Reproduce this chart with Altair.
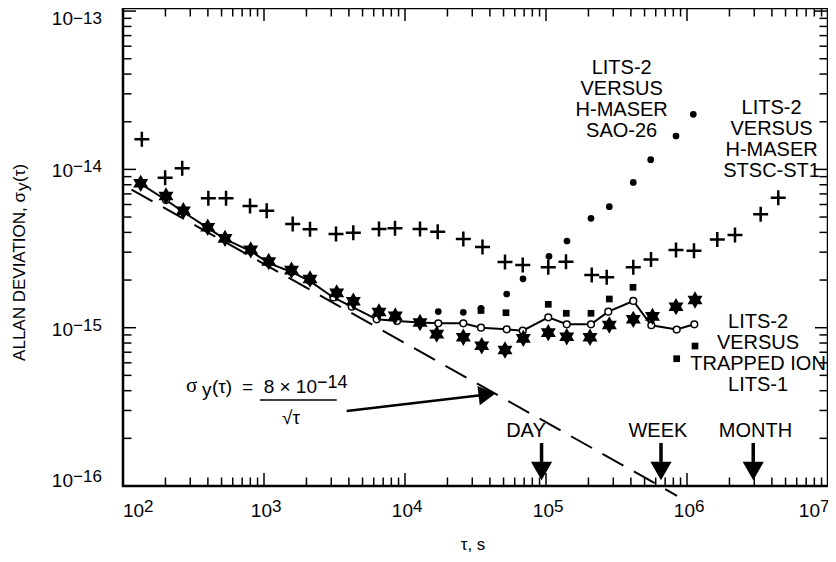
import altair as alt
import pandas as pd

# ---------------- data ----------------
# LITS-2 versus H-maser STSC-ST1  (plus markers)
plus_tau = [136, 199, 263, 403, 538, 796, 1045, 1598, 2120, 3241, 4299, 6540, 8493,
            12780, 17060, 25920, 35450, 51190, 68390, 103800, 138600, 211000, 269500,
            416000, 555600, 835600, 1121000, 1640000, 2190000, 3330000, 4440000]
plus_sig = [1.549e-14, 8.86e-15, 1.016e-14, 6.57e-15, 6.57e-15, 5.87e-15, 5.48e-15,
            4.52e-15, 4.18e-15, 3.91e-15, 3.98e-15, 4.20e-15, 4.25e-15, 4.20e-15,
            4.04e-15, 3.63e-15, 3.23e-15, 2.60e-15, 2.49e-15, 2.41e-15, 2.61e-15,
            2.15e-15, 2.08e-15, 2.41e-15, 2.70e-15, 3.10e-15, 3.06e-15, 3.61e-15,
            3.85e-15, 5.20e-15, 6.63e-15]

# LITS-2 versus H-maser SAO-26  (filled circles)
sao_tau = [17220, 25920, 34600, 52630, 68700, 105000, 140900, 208500, 281200,
           416000, 552900, 835600, 1108000]
sao_sig = [1.265e-15, 1.250e-15, 1.326e-15, 1.633e-15, 2.037e-15, 2.825e-15,
           3.53e-15, 4.91e-15, 5.81e-15, 8.27e-15, 1.151e-14, 1.625e-14, 2.229e-14]

# LITS-2 versus trapped ion LITS-1  (filled squares)
ion_tau = [34600, 52000, 103800, 139300, 208500, 281200, 414000, 845000, 1140000]
ion_sig = [1.284e-15, 1.243e-15, 1.405e-15, 1.233e-15, 1.233e-15, 1.518e-15,
           1.80e-15, 6.37e-16, 7.66e-16]

# six-pointed stars
star_tau = [133.5, 201.8, 267.8, 398.8, 529, 804.8, 1080, 1567, 2120, 3278, 4299,
            6540, 8535, 12780, 16790, 25920, 35000, 51190, 69000, 103800, 140300,
            205100, 281200, 416000, 569000, 835600, 1140000]
star_sig = [8.17e-15, 6.79e-15, 5.48e-15, 4.31e-15, 3.67e-15, 3.10e-15, 2.62e-15,
            2.31e-15, 2.03e-15, 1.661e-15, 1.469e-15, 1.257e-15, 1.189e-15,
            1.079e-15, 9.10e-16, 8.70e-16, 7.69e-16, 7.23e-16, 8.57e-16, 9.30e-16,
            8.77e-16, 8.70e-16, 1.040e-15, 1.130e-15, 1.18e-15, 1.357e-15, 1.496e-15]

# open circles joined by a line
open_tau = [133.5, 201.8, 267.8, 398.8, 529, 804.8, 1080, 1567, 2120, 3101, 4188,
            6300, 8776, 12780, 17220, 25920, 34600, 52630, 68390, 103800, 140300,
            208500, 276600, 416000, 558300, 845000, 1127000]
open_sig = [8.09e-15, 6.41e-15, 5.38e-15, 4.27e-15, 3.63e-15, 3.05e-15, 2.56e-15,
            2.25e-15, 1.97e-15, 1.552e-15, 1.357e-15, 1.130e-15, 1.102e-15,
            1.079e-15, 1.066e-15, 1.066e-15, 1.0e-15, 9.77e-16, 9.57e-16, 1.163e-15,
            1.051e-15, 1.051e-15, 1.262e-15, 1.475e-15, 1.036e-15, 9.73e-16, 1.051e-15]

# theory line sigma = 8e-14 / sqrt(tau), drawn between these tau
theory_coef = 8e-14
theory_tau = [115, 850000]

# time markers
mark_names = ["DAY", "WEEK", "MONTH"]
mark_tau = [93000, 654000, 2950000]
mark_label_tau = [72100, 622000, 3060000]
mark_label_sig = 2.225e-16
mark_shaft_sig = [1.87e-16, 1.42e-16]
mark_head_sig = 1.244e-16

# formula annotation
formula_tau, formula_sig = 936.6, 3.494e-16
formula_bar_end_tau = 3279
arrow_tau = [3860, 38150]
arrow_sig = [2.98e-16, 3.78e-16]

# series labels (position of the first line)
sao_label = ["LITS-2", "VERSUS", "H-MASER", "SAO-26"]
sao_label_pos = (344000, 4.37e-14)
stsc_label = ["LITS-2", "VERSUS", "H-MASER", "STSC-ST1"]
stsc_label_pos = (3.98e6, 2.443e-14)
ion_label = ["LITS-2", "VERSUS", "TRAPPED ION", "LITS-1"]
ion_label_pos = (3.19e6, 1.091e-15)

# axes ticks / labels
x_label_exps = [2, 3, 4, 5, 6, 7]
y_label_exps = [-16, -15, -14, -13]
x_major_ticks = [1e3, 1e4, 1e5, 1e6]
x_minor_ticks = [k * 10.0 ** d for d in range(2, 7) for k in range(2, 10)]
y_major_ticks = [1e-15, 1e-14, 1e-13]
y_minor_ticks = [k * 10.0 ** d for d in range(-16, -13) for k in range(2, 10)]

# ---------------- chart ----------------
W, H = 705, 478
FONT = "Liberation Sans"
XS = alt.Scale(type="log", domain=[100, 1e7], nice=False)
YS = alt.Scale(type="log", domain=[1e-16, 1.046e-13], nice=False)
STAR = "M0,-1L0.866,0.5L-0.866,0.5Z M0,1L-0.866,-0.5L0.866,-0.5Z"
PLUS = "M-1,0L1,0M0,-1L0,1"


def X(f="tau"):
    return alt.X(f"{f}:Q", scale=XS, axis=None)


def Y(f="sig"):
    return alt.Y(f"{f}:Q", scale=YS, axis=None)


def df(tau, sig):
    return pd.DataFrame({"tau": tau, "sig": sig})


layers = []

# theory dashed line
th = df(theory_tau, [theory_coef / t ** 0.5 for t in theory_tau])
layers.append(alt.Chart(th).mark_line(color="black", strokeWidth=2, strokeDash=[24, 12])
              .encode(x=X(), y=Y()))

# open circles + line
od = df(open_tau, open_sig)
layers.append(alt.Chart(od).mark_line(color="black", strokeWidth=2).encode(x=X(), y=Y()))
layers.append(alt.Chart(od).mark_point(shape="circle", filled=True, fill="white",
                                       stroke="black", strokeWidth=1.5, size=45, opacity=1)
              .encode(x=X(), y=Y()))

# stars
layers.append(alt.Chart(df(star_tau, star_sig)).mark_point(
    shape=STAR, filled=True, fill="black", size=300, opacity=1, strokeWidth=0)
    .encode(x=X(), y=Y()))

# filled circles
layers.append(alt.Chart(df(sao_tau, sao_sig)).mark_point(
    shape="circle", filled=True, fill="black", size=45, opacity=1, strokeWidth=0)
    .encode(x=X(), y=Y()))

# squares
layers.append(alt.Chart(df(ion_tau, ion_sig)).mark_point(
    shape="square", filled=True, fill="black", size=45, opacity=1, strokeWidth=0)
    .encode(x=X(), y=Y()))

# plus
layers.append(alt.Chart(df(plus_tau, plus_sig)).mark_point(
    shape=PLUS, filled=False, stroke="black", strokeWidth=2.5, size=225, opacity=1)
    .encode(x=X(), y=Y()))

# ---- ticks (inward, all four sides) ----
for vals, ln in ((x_major_ticks, 13), (x_minor_ticks, 8.5)):
    d = pd.DataFrame({"tau": vals})
    layers.append(alt.Chart(d).mark_rule(color="black", strokeWidth=1.5)
                  .encode(x=X(), y=alt.value(H), y2=alt.value(H - ln)))
    layers.append(alt.Chart(d).mark_rule(color="black", strokeWidth=1.5)
                  .encode(x=X(), y=alt.value(0), y2=alt.value(ln)))
for vals, ln in ((y_major_ticks, 13), (y_minor_ticks, 8.5)):
    d = pd.DataFrame({"sig": vals})
    layers.append(alt.Chart(d).mark_rule(color="black", strokeWidth=1.5)
                  .encode(y=Y(), x=alt.value(0), x2=alt.value(ln)))
    layers.append(alt.Chart(d).mark_rule(color="black", strokeWidth=1.5)
                  .encode(y=Y(), x=alt.value(W), x2=alt.value(W - ln)))

# ---- x tick labels ----
xl = pd.DataFrame({"tau": [10.0 ** e for e in x_label_exps],
                   "base": ["10"] * len(x_label_exps),
                   "exp": [str(e) for e in x_label_exps]})
first, mid, last = xl.iloc[[0]], xl.iloc[1:-1], xl.iloc[[-1]]
for part, dx10, align10, dxe in ((first, 0, "left", 21), (mid, 8, "right", 8), (last, -8, "right", -8)):
    layers.append(alt.Chart(part).mark_text(font=FONT, fontSize=19, align=align10, dx=dx10,
                                            baseline="alphabetic", color="black")
                  .encode(x=X(), y=alt.value(H + 31), text="base:N"))
    layers.append(alt.Chart(part).mark_text(font=FONT, fontSize=17, align="left", dx=dxe,
                                            baseline="alphabetic", color="black")
                  .encode(x=X(), y=alt.value(H + 26), text="exp:N"))

# ---- y tick labels ----
yl = pd.DataFrame({"sig": [10.0 ** e for e in y_label_exps],
                   "base": ["10"] * len(y_label_exps),
                   "exp": ["\u2212" + str(-e) for e in y_label_exps]})
for part, dyb, dye in ((yl.iloc[[0]], 1, -4), (yl.iloc[1:3], 8, 3), (yl.iloc[[3]], 14, 13)):
    layers.append(alt.Chart(part).mark_text(font=FONT, fontSize=19, align="right",
                                            baseline="alphabetic", dy=dyb, color="black")
                  .encode(y=Y(), x=alt.value(-50), text="base:N"))
    layers.append(alt.Chart(part).mark_text(font=FONT, fontSize=17, align="left",
                                            baseline="alphabetic", dy=dye, color="black")
                  .encode(y=Y(), x=alt.value(-50), text="exp:N"))


# ---- axis titles ----
def lone_text(t, x, y, **kw):
    return alt.Chart(pd.DataFrame({"t": [t]})).mark_text(font=FONT, color="black", **kw) \
        .encode(x=alt.value(x), y=alt.value(y), text="t:N")


layers.append(lone_text("\u03c4, s", 350, 542, fontSize=17, align="center", baseline="alphabetic"))
# rotated y title: "ALLAN DEVIATION, σ" ends where the subscript y starts
layers.append(lone_text("ALLAN DEVIATION, \u03c3", -103, 184, fontSize=17, angle=270,
                        align="right", baseline="middle"))
layers.append(lone_text("y", -100, 183, fontSize=17, angle=270, align="left", baseline="middle"))
layers.append(lone_text("(\u03c4)", -103, 174, fontSize=17, angle=270, align="left", baseline="middle"))

# ---- series labels (multi-line) ----
for lines, (lt, ls) in ((sao_label, sao_label_pos), (stsc_label, stsc_label_pos), (ion_label, ion_label_pos)):
    layers.append(alt.Chart(df([lt], [ls])).mark_text(font=FONT, fontSize=20, lineHeight=21,
                                                      align="center", baseline="middle", color="black")
                  .encode(x=X(), y=Y(), text=alt.value(lines)))

# ---- DAY / WEEK / MONTH markers ----
md = pd.DataFrame({"name": mark_names, "tau": mark_tau, "ltau": mark_label_tau,
                   "s0": mark_shaft_sig[0], "s1": mark_shaft_sig[1],
                   "head": mark_head_sig, "lsig": mark_label_sig})
layers.append(alt.Chart(md).mark_text(font=FONT, fontSize=20, align="center", baseline="middle",
                                      color="black")
              .encode(x=X("ltau"), y=Y("lsig"), text="name:N"))
layers.append(alt.Chart(md).mark_rule(color="black", strokeWidth=3.5)
              .encode(x=X(), y=Y("s0"), y2="s1:Q"))
layers.append(alt.Chart(md).mark_point(shape="triangle-down", filled=True, fill="black",
                                       size=450, opacity=1, strokeWidth=0)
              .encode(x=X(), y=Y("head")))

# ---- formula annotation ----
fd = df([formula_tau], [formula_sig])
fd["tau2"] = formula_bar_end_tau
pieces = [("\u03c3", -74, -8, "left", 21, "Liberation Serif"),
          ("y", -58, -4, "left", 19, FONT),
          ("(\u03c4)", -48, -7, "left", 19, FONT),
          ("=", -18, -7, "left", 19, FONT),
          ("8 \u00d7 10", 57, -7, "right", 19, FONT),
          ("\u221214", 57, -12, "left", 18, FONT),
          ("\u221a\u03c4", 31, 24, "center", 19, FONT)]
for t, dx, dy, al, fs, fn in pieces:
    layers.append(alt.Chart(fd).mark_text(font=fn, fontSize=fs, dx=dx, dy=dy, align=al,
                                          baseline="alphabetic", color="black")
                  .encode(x=X(), y=Y(), text=alt.value(t)))
layers.append(alt.Chart(fd).mark_rule(color="black", strokeWidth=1.5)
              .encode(x=X(), x2="tau2:Q", y=Y()))
ad = df(arrow_tau, arrow_sig)
layers.append(alt.Chart(ad).mark_line(color="black", strokeWidth=2.5).encode(x=X(), y=Y()))
layers.append(alt.Chart(ad.iloc[[1]]).mark_point(shape="triangle-right", angle=353, filled=True,
                                                fill="black", size=380, opacity=1, strokeWidth=0)
              .encode(x=X(), y=Y()))

chart = alt.layer(*layers).properties(
    width=W, height=H,
    autosize=alt.AutoSizeParams(type="none"),
    padding={"left": 115, "top": 0, "right": 0, "bottom": 68},
    background="white",
).configure_view(stroke="black", strokeWidth=2.5)

chart.save("out.html", embed_options={"renderer": "svg", "actions": False})
